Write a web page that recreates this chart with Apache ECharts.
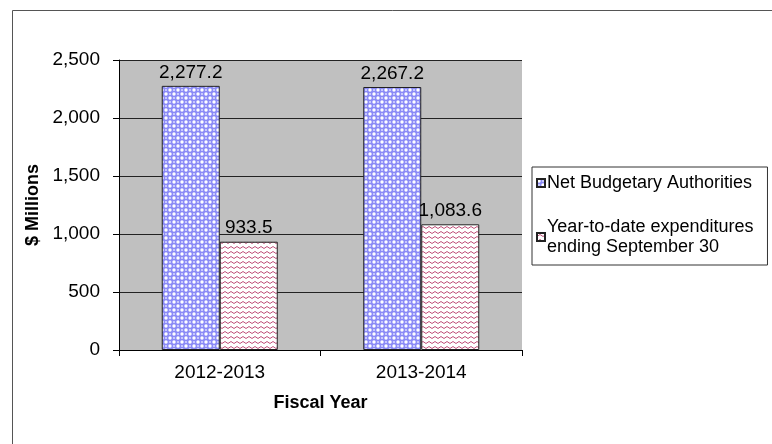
<!DOCTYPE html>
<html>
<head>
<meta charset="utf-8">
<script src="https://cdn.jsdelivr.net/npm/echarts@6/dist/echarts.min.js"></script>
<style>
html,body{margin:0;padding:0;background:#fff;}
#chart{width:772px;height:444px;}
</style>
</head>
<body>
<div id="chart"></div>
<script>
const categories = ['2012-2013', '2013-2014'];
const seriesNames = ['Net Budgetary Authorities', 'Year-to-date expenditures\nending September 30'];
const netBudgetary = [2277.2, 2267.2];
const ytdExpenditures = [933.5, 1083.6];
const yTicks = { min: 0, max: 2500, interval: 500 };

function dotPattern() {
  const c = document.createElement('canvas');
  c.width = 8; c.height = 8;
  const g = c.getContext('2d');
  g.fillStyle = '#8a8af6';
  g.fillRect(0, 0, 8, 8);
  g.fillStyle = '#ffffff';
  [[2, 2], [6, 6], [-2, 6], [10, 2], [6, -2], [2, 10]].forEach(p => {
    g.beginPath(); g.arc(p[0], p[1], 1.7, 0, Math.PI * 2); g.fill();
  });
  g.fillStyle = '#d8d8ff';
  [[6, 2], [2, 6]].forEach(p => {
    g.beginPath(); g.arc(p[0], p[1], 1.1, 0, Math.PI * 2); g.fill();
  });
  return c;
}
function wavePattern() {
  const c = document.createElement('canvas');
  c.width = 6; c.height = 5;
  const g = c.getContext('2d');
  g.fillStyle = '#ffffff';
  g.fillRect(0, 0, 6, 5);
  g.strokeStyle = '#c0507a';
  g.lineWidth = 1;
  g.beginPath();
  g.moveTo(0, 3.5); g.lineTo(3, 1.5); g.lineTo(6, 3.5);
  g.stroke();
  return c;
}

const chart = echarts.init(document.getElementById('chart'), null, { renderer: 'canvas' });
const fontFamily = '"Liberation Sans", Arial, sans-serif';
const bluePat = { image: dotPattern(), repeat: 'repeat' };
const pinkPat = { image: wavePattern(), repeat: 'repeat' };

chart.setOption({
  animation: false,
  backgroundColor: '#ffffff',
  graphic: [{
    type: 'rect', left: 10, top: 8,
    shape: { width: 800, height: 460 },
    style: { fill: 'none', stroke: '#555', lineWidth: 1 }
  }],
  grid: { left: 119, top: 60, width: 403, height: 290, backgroundColor: '#c0c0c0', show: true, borderWidth: 0 },
  legend: {
    orient: 'vertical',
    left: 532, top: 167,
    width: 234,
    padding: [6, 14, 8, 4],
    itemGap: 24,
    itemWidth: 8, itemHeight: 8,
    icon: 'rect',
    borderColor: '#333', borderWidth: 1,
    textStyle: { fontFamily: fontFamily, fontSize: 18, color: '#000', lineHeight: 20, padding: [0, 0, 0, -3] },
    data: seriesNames
  },
  xAxis: {
    type: 'category',
    data: categories,
    name: 'Fiscal Year',
    nameLocation: 'middle',
    nameGap: 44,
    nameTextStyle: { fontFamily: fontFamily, fontSize: 18, fontWeight: 'bold', color: '#000' },
    axisLine: { lineStyle: { color: '#000', width: 1 } },
    axisTick: { show: true, length: 6, lineStyle: { color: '#000' } },
    axisLabel: { fontFamily: fontFamily, fontSize: 19, color: '#000', margin: 13 },
    splitLine: { show: false }
  },
  yAxis: {
    type: 'value',
    min: yTicks.min, max: yTicks.max, interval: yTicks.interval,
    name: '$ Millions',
    nameLocation: 'middle',
    nameGap: 76,
    nameTextStyle: { fontFamily: fontFamily, fontSize: 18, fontWeight: 'bold', color: '#000' },
    axisLine: { show: true, lineStyle: { color: '#000', width: 1 } },
    axisTick: { show: true, length: 6, lineStyle: { color: '#000' } },
    axisLabel: {
      fontFamily: fontFamily, fontSize: 19, color: '#000', margin: 19,
      formatter: v => v.toLocaleString('en-US')
    },
    splitLine: { show: true, lineStyle: { color: '#222', width: 1 } }
  },
  series: [
    {
      name: seriesNames[0],
      type: 'bar',
      data: netBudgetary,
      barWidth: 58,
      barGap: '0%',
      itemStyle: { color: bluePat, borderColor: '#222', borderWidth: 1 },
      label: {
        show: true, position: 'top', distance: 4,
        fontFamily: fontFamily, fontSize: 19, color: '#000',
        formatter: p => p.value.toLocaleString('en-US', { minimumFractionDigits: 1, maximumFractionDigits: 1 })
      }
    },
    {
      name: seriesNames[1],
      type: 'bar',
      data: ytdExpenditures,
      barWidth: 58,
      barGap: '0%',
      itemStyle: { color: pinkPat, borderColor: '#222', borderWidth: 1 },
      label: {
        show: true, position: 'top', distance: 4,
        fontFamily: fontFamily, fontSize: 19, color: '#000',
        formatter: p => p.value.toLocaleString('en-US', { minimumFractionDigits: 1, maximumFractionDigits: 1 })
      }
    }
  ]
});
</script>
</body>
</html>
